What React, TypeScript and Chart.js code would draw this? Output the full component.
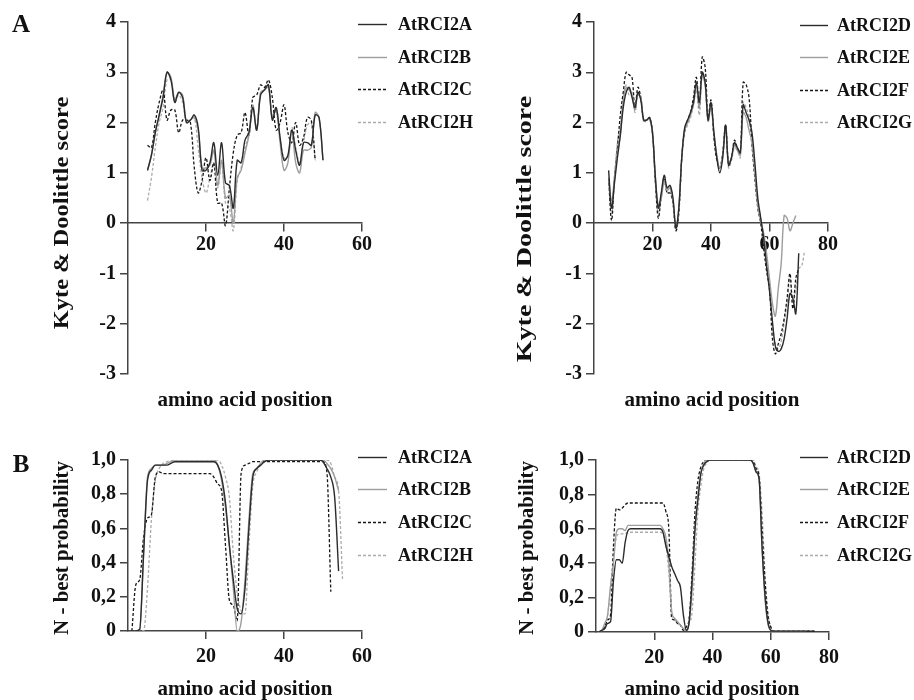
import React, { useEffect, useRef } from "react";
import { Chart, registerables } from "chart.js";

Chart.register(...registerables);

const FONT = '"Liberation Serif", "Times New Roman", Times, serif';

// ---------- Panel A, left: Kyte & Doolittle ----------
const KD_LEFT_LABELS = ["AtRCI2A", "AtRCI2B", "AtRCI2C", "AtRCI2H"];
const KD_LEFT_STARTS = [5, 5, 5, 5];
const KD_2A = [1.05, 1.35, 1.8, 2.15, 2.5, 3.0, 2.85, 2.4, 2.6, 2.5, 2.0, 2.05, 2.15, 1.9, 1.05, 1.05, 1.2, 1.6, 0.95, 1.6, 0.8, 0.75, 0.3, 1.25, 1.2, 1.65, 1.8, 2.3, 1.85, 2.55, 2.65, 2.75, 2.05, 2.3, 1.7, 1.25, 1.35, 1.85, 1.45, 1.15, 1.6, 1.6, 1.55, 2.15, 2.1, 1.25];
const KD_2B = [1.05, 1.35, 1.8, 2.15, 2.55, 3.0, 2.9, 2.45, 2.6, 2.55, 2.0, 2.05, 2.1, 1.85, 1.1, 1.1, 1.15, 1.45, 0.75, 1.25, 0.5, 0.55, 0.0, 0.9, 1.05, 1.4, 1.75, 2.35, 1.85, 2.6, 2.65, 2.7, 2.1, 2.25, 1.6, 1.05, 1.2, 1.85, 1.2, 1.0, 1.45, 1.45, 1.5, 2.2, 2.1, 1.25];
const KD_2C = [1.55, 1.5, 2.0, 2.4, 2.65, 2.05, 2.25, 2.25, 1.8, 2.05, 2.05, 2.0, 1.1, 0.6, 0.85, 1.3, 0.85, 1.2, 0.4, 0.4, -0.05, 0.7, 1.4, 1.75, 1.8, 2.2, 1.75, 2.5, 2.55, 2.75, 2.7, 2.85, 2.5, 1.85, 2.0, 2.35, 1.8, 1.6, 2.0, 1.55, 1.7, 2.1, 2.05, 1.25];
const KD_2H = [0.45, 0.9, 1.5, 2.0, 2.3, 2.85, 2.85, 2.4, 2.55, 2.4, 2.0, 2.05, 2.1, 1.5, 0.9, 0.6, 0.9, 1.2, 0.7, 1.2, 0.4, 0.3, -0.15, 0.85, 1.1, 1.5, 1.75, 2.3, 1.9, 2.6, 2.65, 2.75, 2.15, 2.3, 1.7, 1.3, 1.3, 1.9, 1.5, 1.2, 1.6, 1.95, 2.0, 1.25];

// ---------- Panel A, right: Kyte & Doolittle ----------
const KD_RIGHT_LABELS = ["AtRCI2D", "AtRCI2E", "AtRCI2F", "AtRCI2G"];
const KD_RIGHT_STARTS = [5, 5, 5, 5];
const KD_2D = [1.05, 0.3, 0.8, 1.3, 1.75, 2.3, 2.6, 2.7, 2.5, 2.3, 2.6, 2.45, 2.05, 2.05, 2.1, 1.8, 0.9, 0.3, 0.6, 0.95, 0.7, 0.75, 0.5, -0.1, 0.3, 1.3, 1.9, 2.05, 2.2, 2.4, 2.8, 2.4, 3.0, 2.8, 2.05, 2.4, 1.8, 1.3, 1.0, 1.3, 1.95, 1.15, 1.3, 1.6, 1.5, 1.4, 2.35, 2.2, 2.05, 1.8, 1.2, 0.5, 0.1, -0.3, -0.85, -1.35, -1.95, -2.45, -2.55, -2.5, -2.3, -1.9, -1.4, -1.5, -1.8, -0.6];
const KD_2E = [0.9, 0.45, 0.9, 1.4, 1.75, 2.4, 2.7, 2.65, 2.55, 2.25, 2.55, 2.5, 2.05, 2.05, 2.1, 1.8, 0.9, 0.35, 0.5, 0.85, 0.65, 0.7, 0.45, -0.1, 0.3, 1.3, 1.85, 2.0, 2.15, 2.35, 2.75, 2.3, 2.95, 2.75, 2.05, 2.3, 1.8, 1.35, 1.1, 1.35, 1.9, 1.2, 1.3, 1.55, 1.45, 1.35, 2.2, 2.1, 1.85, 1.6, 1.0, 0.35, 0.05, -0.2, -0.6, -1.1, -1.6, -1.85, -1.3, -0.8, 0.15, 0.1, -0.15, 0.0, 0.15];
const KD_2F = [0.9, 0.05, 0.9, 1.5, 2.15, 2.6, 3.0, 2.95, 2.9, 2.25, 2.7, 2.5, 2.05, 2.05, 2.1, 1.8, 0.8, 0.1, 0.55, 0.9, 0.6, 0.6, 0.4, -0.15, 0.2, 1.3, 1.85, 2.05, 2.2, 2.5, 2.9, 2.3, 3.3, 3.1, 2.1, 2.45, 1.7, 1.25, 1.1, 1.4, 1.95, 1.2, 1.3, 1.65, 1.5, 1.4, 2.8, 2.75, 2.5, 1.6, 0.9, 0.3, 0.0, -0.5, -0.95, -1.3, -2.3, -2.6, -2.4, -2.2, -1.9, -1.5, -1.0, -1.7, -1.1, -0.9];
const KD_2G = [0.85, 0.2, 0.85, 1.6, 1.9, 2.5, 2.75, 2.55, 2.6, 2.2, 2.6, 2.45, 2.0, 2.05, 2.05, 1.75, 0.8, 0.2, 0.5, 0.85, 0.6, 0.65, 0.4, -0.15, 0.25, 1.25, 1.8, 1.95, 2.1, 2.35, 2.65, 2.15, 2.95, 2.75, 2.0, 2.35, 1.75, 1.3, 1.1, 1.3, 1.9, 1.1, 1.25, 1.5, 1.45, 1.3, 2.4, 2.3, 2.1, 1.5, 0.9, 0.4, 0.1, -0.4, -0.8, -1.3, -2.0, -2.4, -2.5, -2.35, -2.0, -1.6, -1.1, -1.6, -1.3, -0.9, -0.85, -0.55];

// ---------- Panel B, left: N-best probability ----------
const NB_LEFT_LABELS = ["AtRCI2A", "AtRCI2B", "AtRCI2C", "AtRCI2H"];
const NB_LEFT_STARTS = [1, 1, 1, 1];
const NB_2A = [0, 0, 0.01, 0.45, 0.88, 0.94, 0.97, 0.97, 0.97, 0.97, 0.98, 0.99, 0.99, 0.99, 0.99, 0.99, 0.99, 0.99, 0.99, 0.99, 0.99, 0.99, 0.97, 0.9, 0.75, 0.5, 0.3, 0.13, 0.1, 0.25, 0.6, 0.9, 0.95, 0.97, 0.99, 1, 1, 1, 1, 1, 1, 1, 1, 1, 1, 1, 1, 1, 1, 0.99, 0.95, 0.9, 0.78, 0.35];
const NB_2B = [0, 0, 0, 0.45, 0.9, 0.95, 0.97, 0.97, 0.97, 0.98, 0.99, 1, 1, 1, 1, 1, 1, 1, 1, 1, 1, 1, 0.97, 0.88, 0.72, 0.5, 0.25, 0.0, 0.05, 0.3, 0.65, 0.92, 0.95, 0.98, 1, 1, 1, 1, 1, 1, 1, 1, 1, 1, 1, 1, 1, 1, 1, 1, 0.98, 0.95, 0.9, 0.82];
const NB_2C = [0, 0.27, 0.3, 0.55, 0.66, 0.68, 0.9, 0.93, 0.92, 0.92, 0.92, 0.92, 0.92, 0.92, 0.92, 0.92, 0.92, 0.92, 0.92, 0.92, 0.92, 0.9, 0.86, 0.82, 0.5, 0.18, 0.15, 0.06, 0.92, 0.97, 0.98, 0.99, 0.99, 0.99, 0.99, 0.99, 0.99, 0.99, 0.99, 0.99, 0.99, 0.99, 0.99, 0.99, 0.99, 0.99, 0.99, 0.99, 0.99, 0.99, 0.93, 0.23];
const NB_2H = [0, 0, 0, 0, 0.25, 0.65, 0.88, 0.95, 0.98, 0.99, 1, 1, 1, 1, 1, 1, 1, 1, 1, 1, 1, 1, 1, 0.97, 0.9, 0.78, 0.45, 0.22, 0.12, 0.1, 0.5, 0.85, 0.93, 0.97, 0.99, 1, 1, 1, 1, 1, 1, 1, 1, 1, 1, 1, 1, 1, 1, 1, 1, 0.98, 0.9, 0.82, 0.3];

// ---------- Panel B, right: N-best probability ----------
const NB_RIGHT_LABELS = ["AtRCI2D", "AtRCI2E", "AtRCI2F", "AtRCI2G"];
const NB_RIGHT_STARTS = [1, 1, 1, 1];
const NB_2D = [0, 0.01, 0.02, 0.05, 0.06, 0.3, 0.42, 0.42, 0.4, 0.52, 0.59, 0.6, 0.6, 0.6, 0.6, 0.6, 0.6, 0.6, 0.6, 0.6, 0.6, 0.6, 0.58, 0.5, 0.44, 0.38, 0.34, 0.3, 0.26, 0.1, 0.01, 0.06, 0.3, 0.6, 0.77, 0.92, 0.97, 0.99, 1, 1, 1, 1, 1, 1, 1, 1, 1, 1, 1, 1, 1, 1, 1, 0.98, 0.93, 0.89, 0.5, 0.22, 0.06, 0.01, 0.005, 0.005, 0.005, 0.005, 0.005, 0.005, 0.005, 0.005, 0.005, 0.005, 0.005, 0.005, 0.005, 0.005, 0.005];
const NB_2E = [0, 0.01, 0.05, 0.1, 0.27, 0.4, 0.58, 0.6, 0.6, 0.59, 0.62, 0.62, 0.62, 0.62, 0.62, 0.62, 0.62, 0.62, 0.62, 0.62, 0.62, 0.62, 0.6, 0.55, 0.4, 0.12, 0.08, 0.06, 0.04, 0.02, 0.01, 0.06, 0.25, 0.6, 0.8, 0.93, 0.98, 1, 1, 1, 1, 1, 1, 1, 1, 1, 1, 1, 1, 1, 1, 1, 1, 0.98, 0.93, 0.89, 0.5, 0.2, 0.05, 0.01, 0.005, 0.005, 0.005, 0.005, 0.005, 0.005, 0.005, 0.005, 0.005, 0.005, 0.005, 0.005];
const NB_2F = [0, 0.01, 0.03, 0.07, 0.1, 0.5, 0.72, 0.71, 0.72, 0.74, 0.75, 0.75, 0.75, 0.75, 0.75, 0.75, 0.75, 0.75, 0.75, 0.75, 0.75, 0.75, 0.75, 0.7, 0.6, 0.08, 0.07, 0.05, 0.04, 0.01, 0.03, 0.08, 0.35, 0.7, 0.88, 0.96, 0.99, 1, 1, 1, 1, 1, 1, 1, 1, 1, 1, 1, 1, 1, 1, 1, 1, 0.99, 0.95, 0.9, 0.6, 0.3, 0.1, 0.03, 0.005, 0.005, 0.005, 0.005, 0.005, 0.005, 0.005, 0.005, 0.005, 0.005, 0.005, 0.005, 0.005, 0.005, 0.005];
const NB_2G = [0, 0.01, 0.02, 0.1, 0.25, 0.45, 0.55, 0.57, 0.57, 0.57, 0.58, 0.58, 0.58, 0.58, 0.58, 0.58, 0.58, 0.58, 0.58, 0.58, 0.58, 0.58, 0.57, 0.5, 0.35, 0.1, 0.07, 0.05, 0.04, 0.02, 0.03, 0.05, 0.12, 0.4, 0.7, 0.85, 0.95, 0.98, 1, 1, 1, 1, 1, 1, 1, 1, 1, 1, 1, 1, 1, 1, 1, 1, 0.96, 0.92, 0.7, 0.35, 0.12, 0.03, 0.005, 0.005, 0.005, 0.005, 0.005, 0.005, 0.005, 0.005, 0.005, 0.005, 0.005, 0.005];

// tick labels
const KD_Y_TICKS = [-3, -2, -1, 0, 1, 2, 3, 4];
const NB_Y_TICK_LABELS = ["0", "0,2", "0,4", "0,6", "0,8", "1,0"];
const X_TICK_STEP = 20;

// line styles (in dataset order)
const STYLES = [
  { color: "#2b2b2b", dash: [] as number[], width: 1.4 },
  { color: "#9d9d9d", dash: [] as number[], width: 1.4 },
  { color: "#161616", dash: [3, 2], width: 1.3 },
  { color: "#ababab", dash: [3, 2], width: 1.3 },
];

type PanelCfg = {
  labels: string[];
  starts: number[];
  series: number[][];
  area: { left: number; top: number; right: number; bottom: number };
  xMax: number;
  kind: "kd" | "nb";
  legend: { x1: number; x2: number; tx: number; rows: number[] };
};

const PANELS: PanelCfg[] = [
  {
    labels: KD_LEFT_LABELS, starts: KD_LEFT_STARTS, series: [KD_2A, KD_2B, KD_2C, KD_2H],
    area: { left: 128, top: 22, right: 362, bottom: 374 }, xMax: 60, kind: "kd",
    legend: { x1: 358, x2: 387, tx: 398, rows: [24, 57, 89, 122] },
  },
  {
    labels: KD_RIGHT_LABELS, starts: KD_RIGHT_STARTS, series: [KD_2D, KD_2E, KD_2F, KD_2G],
    area: { left: 594, top: 22, right: 828, bottom: 374 }, xMax: 80, kind: "kd",
    legend: { x1: 800, x2: 828, tx: 837, rows: [25, 57, 90, 122] },
  },
  {
    labels: NB_LEFT_LABELS, starts: NB_LEFT_STARTS, series: [NB_2A, NB_2B, NB_2C, NB_2H],
    area: { left: 128, top: 460, right: 362, bottom: 631 }, xMax: 60, kind: "nb",
    legend: { x1: 358, x2: 387, tx: 398, rows: [457, 489, 522, 555] },
  },
  {
    labels: NB_RIGHT_LABELS, starts: NB_RIGHT_STARTS, series: [NB_2D, NB_2E, NB_2F, NB_2G],
    area: { left: 596, top: 460, right: 829, bottom: 632 }, xMax: 80, kind: "nb",
    legend: { x1: 800, x2: 828, tx: 837, rows: [457, 489, 522, 555] },
  },
];

const W = 914;
const H = 700;
const AXIS_COLOR = "#444";
const Y_AXIS_BOX = 50; // fixed width reserved for y tick labels
const X_AXIS_BOX = 40; // fixed height reserved for bottom x tick labels

function makeLegendPlugin(lg: PanelCfg["legend"]) {
  return {
    id: "manualLegend",
    afterDraw(chart: any) {
      const ctx = chart.ctx;
      chart.data.datasets.forEach((ds: any, i: number) => {
        const y = lg.rows[i];
        ctx.save();
        ctx.strokeStyle = ds.borderColor;
        ctx.lineWidth = ds.borderWidth;
        ctx.setLineDash(ds.borderDash || []);
        ctx.beginPath();
        ctx.moveTo(lg.x1, y + 0.5);
        ctx.lineTo(lg.x2, y + 0.5);
        ctx.stroke();
        ctx.setLineDash([]);
        ctx.fillStyle = "#111";
        ctx.font = `bold 18px ${FONT}`;
        ctx.textBaseline = "middle";
        ctx.textAlign = "left";
        ctx.fillText(ds.label, lg.tx, y + 1);
        ctx.restore();
      });
    },
  };
}

function buildChart(canvas: HTMLCanvasElement, p: PanelCfg) {
  const datasets = p.series.map((vals, i) => ({
    label: p.labels[i],
    data: vals.map((v, j) => ({ x: p.starts[i] + j, y: v })),
    borderColor: STYLES[i].color,
    borderDash: STYLES[i].dash,
    borderWidth: STYLES[i].width,
    pointRadius: 0,
    fill: false,
    tension: p.kind === "kd" ? 0.35 : 0,
    cubicInterpolationMode: p.kind === "nb" ? ("monotone" as const) : ("default" as const),
  }));
  const tickFont = { family: FONT, size: 20, weight: "bold" as const };
  const isKd = p.kind === "kd";
  const xBox = isKd ? 0 : X_AXIS_BOX;
  return new Chart(canvas, {
    type: "line",
    data: { datasets },
    options: {
      animation: false,
      responsive: false,
      maintainAspectRatio: false,
      events: [],
      layout: {
        padding: {
          left: p.area.left - Y_AXIS_BOX,
          top: p.area.top,
          right: W - p.area.right,
          bottom: H - p.area.bottom - xBox,
        },
      },
      plugins: { legend: { display: false }, tooltip: { enabled: false }, title: { display: false } },
      scales: {
        x: {
          type: "linear",
          min: 0,
          max: p.xMax,
          position: isKd ? { y: 0 } : "bottom",
          afterFit: (s: any) => { s.height = xBox; },
          grid: {
            drawOnChartArea: false,
            drawTicks: true,
            tickLength: 8,
            lineWidth: 1.5,
            color: AXIS_COLOR,
            tickColor: (c: any) => (c.tick && c.tick.value === 0 ? "rgba(0,0,0,0)" : AXIS_COLOR),
          },
          border: { display: true, color: AXIS_COLOR, width: 1.5 },
          ticks: {
            stepSize: X_TICK_STEP,
            padding: isKd ? 2 : 6,
            color: "#111",
            font: tickFont,
            maxRotation: 0,
            autoSkip: false,
            callback: (v: any) => (v === 0 ? "" : String(v)),
          },
        } as any,
        y: {
          type: "linear",
          position: "left",
          min: isKd ? KD_Y_TICKS[0] : 0,
          max: isKd ? KD_Y_TICKS[KD_Y_TICKS.length - 1] : 1,
          afterFit: (s: any) => { s.width = Y_AXIS_BOX; },
          grid: { drawOnChartArea: false, drawTicks: true, tickLength: 8, lineWidth: 1.5, color: AXIS_COLOR },
          border: { display: true, color: AXIS_COLOR, width: 1.5 },
          ticks: {
            stepSize: isKd ? 1 : 0.2,
            padding: 4,
            color: "#111",
            font: tickFont,
            autoSkip: false,
            callback: (v: any, idx: number) => (isKd ? String(Math.round(v)) : NB_Y_TICK_LABELS[idx]),
          },
        } as any,
      },
    },
    plugins: [makeLegendPlugin(p.legend)],
  });
}

function Text(props: { x: number; y: number; size: number; rotate?: boolean; stretch?: number; children: string }) {
  const { x, y, size, rotate, stretch = 1, children } = props;
  return (
    <div
      style={{
        position: "absolute",
        left: x,
        top: y,
        transform: `translate(-50%, -50%)${rotate ? " rotate(-90deg)" : ""} scaleX(${stretch})`,
        fontFamily: FONT,
        fontWeight: "bold",
        fontSize: size,
        lineHeight: 1,
        whiteSpace: "nowrap",
        color: "#111",
      }}
    >
      {children}
    </div>
  );
}

export default function App() {
  const r0 = useRef<HTMLCanvasElement>(null);
  const r1 = useRef<HTMLCanvasElement>(null);
  const r2 = useRef<HTMLCanvasElement>(null);
  const r3 = useRef<HTMLCanvasElement>(null);

  useEffect(() => {
    const refs = [r0, r1, r2, r3];
    const charts = refs.map((r, i) => buildChart(r.current as HTMLCanvasElement, PANELS[i]));
    return () => charts.forEach((c) => c.destroy());
  }, []);

  const cstyle: React.CSSProperties = { position: "absolute", left: 0, top: 0, width: W, height: H };
  return (
    <div style={{ position: "absolute", left: 0, top: 0, width: W, height: H, background: "#fff", overflow: "hidden" }}>
      <canvas ref={r0} width={W} height={H} style={cstyle} />
      <canvas ref={r1} width={W} height={H} style={cstyle} />
      <canvas ref={r2} width={W} height={H} style={cstyle} />
      <canvas ref={r3} width={W} height={H} style={cstyle} />
      <Text x={21} y={23} size={25}>A</Text>
      <Text x={21} y={463} size={25}>B</Text>
      <Text x={61} y={213} size={21} rotate stretch={1.165}>Kyte &amp; Doolittle score</Text>
      <Text x={524} y={229} size={21} rotate stretch={1.335}>Kyte &amp; Doolittle score</Text>
      <Text x={61} y={548} size={21} rotate>N - best probability</Text>
      <Text x={526} y={548} size={21} rotate>N - best probability</Text>
      <Text x={245} y={399} size={21}>amino acid position</Text>
      <Text x={712} y={399} size={21}>amino acid position</Text>
      <Text x={245} y={688} size={21}>amino acid position</Text>
      <Text x={712} y={688} size={21}>amino acid position</Text>
    </div>
  );
}
